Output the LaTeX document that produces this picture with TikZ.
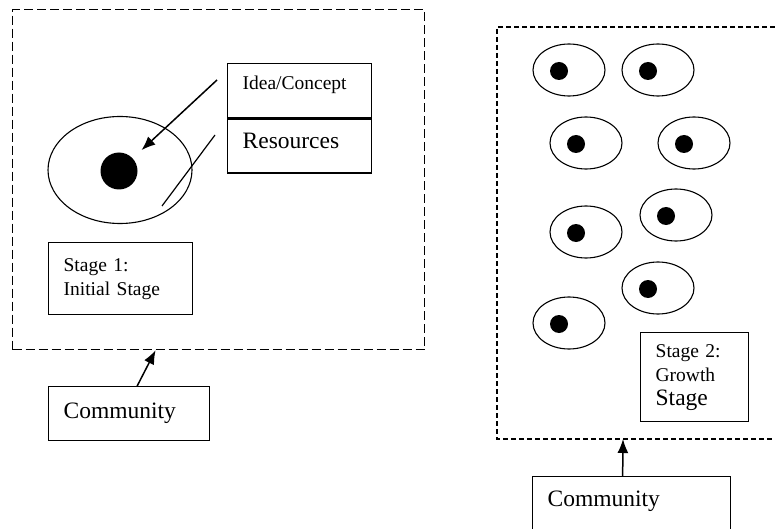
\documentclass[tikz,border=0pt]{standalone}
\usepackage{fontspec}
\setmainfont{Liberation Serif}
\usepackage{tikz}
\usetikzlibrary{shapes.geometric,arrows.meta,positioning,calc}

\newcommand{\smalltxt}{\fontsize{19.5}{24}\selectfont}
\newcommand{\bigtxt}{\fontsize{23.5}{26}\selectfont}

\begin{document}
\begin{tikzpicture}[
    x=1pt, y=-1pt,
    box/.style={rectangle, draw=black, line width=1.3pt, align=left, inner xsep=15pt, inner ysep=0pt, anchor=north west},
    area/.style={draw=black, line width=1.2pt, dash pattern=on 9pt off 4pt},
    area2/.style={draw=black, line width=1.2pt, dash pattern=on 5pt off 3pt},
    cell/.style={ellipse, draw=black, line width=1.1pt, minimum width=72pt, minimum height=52pt, inner sep=0pt},
    seed/.style={circle, fill=black, inner sep=0pt},
    line/.style={draw, -{Latex[length=14pt,width=11pt]}, line width=1.5pt}
]
    \useasboundingbox (0,0) rectangle (775,529);

    % Stage 1
    \node [rectangle, area, minimum width=412pt, minimum height=340pt, anchor=north west] (area1) at (12,9) {};
    \node [cell, minimum width=144pt, minimum height=107pt] (org) at (120,170) {};
    \node [seed, minimum size=37pt] (core) at (119,171) {};

    \node [box, text width=114pt, text height=26pt, text depth=28pt, font=\smalltxt] (idea) at (227,63) {Idea/Concept};
    \node [box, text width=114pt, text height=30pt, text depth=24pt, font=\bigtxt] (res) at (idea.south west) {Resources};
    \node [box, text width=114pt, minimum height=72pt, font=\smalltxt] (stage1) at (48,242) {Stage 1:\\Initial Stage};
    \node [box, text width=131pt, minimum height=54pt, font=\bigtxt] (comm1) at (48,386) {Community};

    \coordinate (ideaout) at (217,80);
    \coordinate (resa) at (215,135);
    \coordinate (resb) at (162,206);
    \path [line, shorten >=12pt] (ideaout) -- (core);
    \draw [line width=1.2pt] (resa) -- (resb);
    \path [line] ([xshift=8pt]comm1.north) -- ([xshift=-63pt]area1.south);

    % Stage 2
    \draw [area2] (775,27) -| (497,439) -- (775,439);
    \coordinate (area2in) at (623,439);
    \foreach \cx/\cy [count=\i] in {569/70, 658/70, 586/143, 694/143, 586/232, 676/215, 658/288, 569/323} {
        \node [cell] (cell\i) at (\cx,\cy) {};
        \node [seed, minimum size=18pt] (dot\i) at ($(cell\i)+(-10,1)$) {};
    }
    \node [box, text width=78pt, minimum height=89pt, font=\smalltxt] (stage2) at (640,332) {Stage 2:\\Growth\\{\bigtxt Stage}};
    \node [box, text width=168pt, text height=30pt, text depth=30pt, font=\bigtxt] (comm2) at (532,476) {Community};
    \path [line] ([xshift=-9pt]comm2.north) -- (area2in);
\end{tikzpicture}
\end{document}
